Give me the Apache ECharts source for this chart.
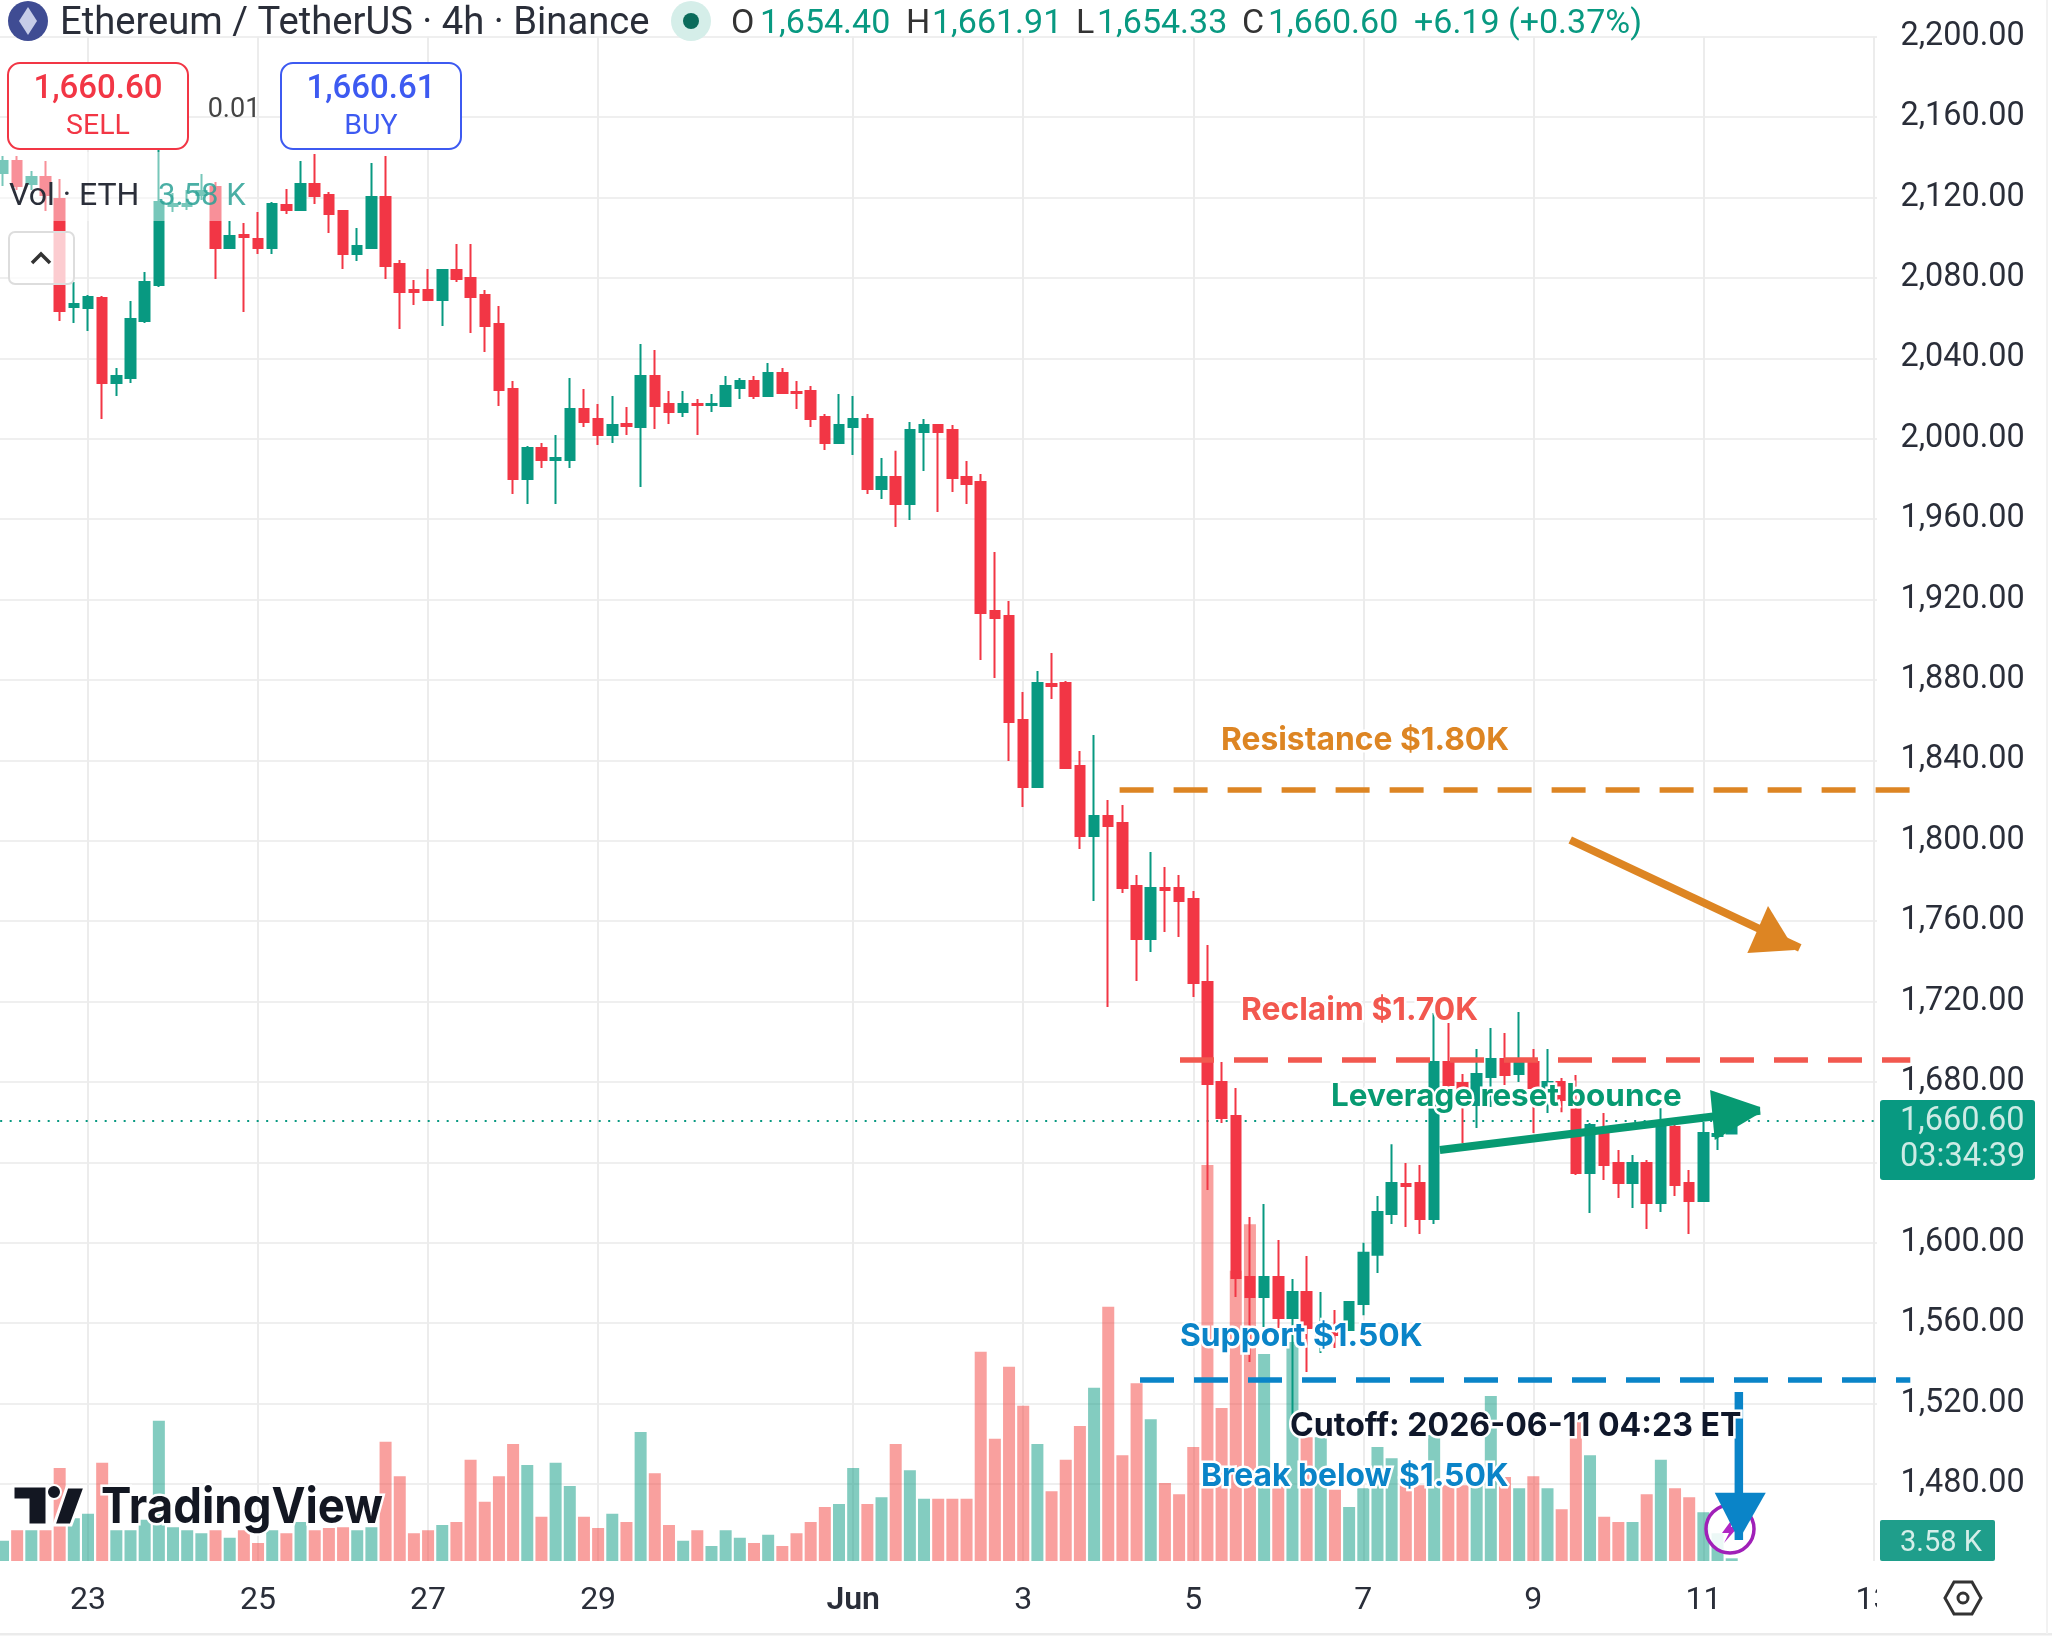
<!DOCTYPE html>
<html>
<head>
<meta charset="utf-8">
<title>ETH/USDT 4h</title>
<script src="https://cdn.jsdelivr.net/npm/echarts@6/dist/echarts.min.js"></script>
<style>html,body{margin:0;padding:0;background:#fff}#chart{width:2052px;height:1644px}</style>
</head>
<body>
<div id="chart"></div>
<script>
// 4h candles, oldest first
const opens = [2132.2,2138.2,2126.8,2130.2,2119.3,2065.6,2065.1,2070,2027.8,2030.2,2058.6,2076.5,2115.8,2115.8,2121.3,2125.3,2094.9,2101.4,2099.4,2094.9,2116.3,2113.8,2126.8,2121.3,2113.3,2091.9,2094.9,2120.3,2087,2074,2074,2069,2084,2080,2071.5,2057.1,2024.8,1980,1995.4,1989.4,1989.4,2014.8,2009.8,2001.9,2007.4,2005.9,2031.2,2017.3,2013.3,2017.3,2016.8,2016.3,2025.3,2028.8,2021.3,2032.7,2023.3,2023.8,2010.8,1997.9,2005.9,2009.8,1975,1981,1967.6,2003.4,2006.9,2004.4,1981,1978.5,1914.3,1911.8,1860.1,1826.8,1878,1878.5,1837.2,1802.4,1812.3,1808.9,1777.5,1751.1,1776.5,1776.5,1771,1729.8,1680,1663.1,1583,1573,1583,1562.6,1575.5,1552.6,1555.6,1556.6,1569.6,1594,1614.3,1629.3,1629.8,1611.8,1690,1679.5,1668.5,1682.5,1691.4,1684,1690,1677,1680,1666.5,1634.7,1656.1,1639.7,1629.8,1639.7,1619.8,1657.6,1629.8,1620.8,1653.1,1654.4];
const closes = [2138.2,2125.8,2130.2,2121.3,2063.6,2067.1,2070.5,2027.8,2031.2,2059.6,2078,2117.8,2116.8,2116.8,2123.3,2094.9,2100.9,2100.4,2094.9,2116.8,2113.8,2126.8,2120.8,2111.8,2091.9,2095.9,2120.3,2086,2073,2073,2069,2084,2079.5,2070.5,2056.1,2024.3,1980,1995.4,1989.4,1990.4,2014.8,2008.4,2001.9,2006.9,2006.4,2031.2,2016.3,2013.3,2017.3,2016.8,2017.3,2026.3,2028.8,2021.3,2032.7,2022.8,2022.8,2009.8,1997.9,2006.9,2009.8,1975,1981,1967.6,2004.4,2006.9,2003.4,1980.5,1977.5,1913.3,1910.8,1859.1,1826.8,1878.5,1877,1836.2,1802.4,1812.3,1807.4,1776.5,1751.1,1776.5,1775.5,1770,1729.3,1679,1662.1,1582.5,1573,1583,1562.6,1575.5,1557.6,1559.1,1554.1,1570.6,1595,1615.3,1629.8,1628.3,1611.8,1690,1678.5,1671,1684,1691.4,1683.5,1689.4,1677,1680,1671,1634.7,1658.6,1638.7,1629.8,1639.7,1619.8,1658.6,1628.8,1620.8,1654.6,1654.1,1660.6];
const lows = [2125.8,2123.8,2123.8,2113.3,2058.6,2057.6,2053.6,2009.8,2021.3,2027.8,2057.6,2075.5,2112.8,2113.8,2118.8,2079.5,2094.9,2063.1,2091.9,2091.9,2111.8,2113.3,2116.8,2102.4,2084.5,2088.4,2094.9,2079.5,2054.6,2066.6,2069,2056.1,2078,2052.6,2043.2,2016.3,1972.5,1967.6,1985.5,1967.6,1985.5,2005.9,1996.9,1997.9,2001.9,1976,2004.9,2007.4,2010.8,2001.9,2013.3,2016.3,2019.8,2019.8,2021.3,2022.8,2014.8,2005.9,1994.4,1997.9,1992,1972.5,1970,1956.1,1959.6,1984,1963.6,1973.5,1967.6,1889.9,1881,1839.7,1816.8,1826.8,1870.5,1836.2,1795.9,1770,1717.3,1774,1730.2,1744.7,1754.6,1752.1,1722.3,1626.3,1659.6,1573,1540.7,1558.1,1557.6,1514.3,1535.7,1545.2,1547.7,1556.6,1564,1585,1609.4,1607.9,1604.4,1609.4,1673.5,1649.6,1657.1,1667.6,1678.5,1680,1654.6,1664.6,1665,1633.7,1614.8,1631.2,1622.3,1617.3,1606.9,1615.3,1623.3,1604.4,1620.8,1646.2,1654.33];
const highs = [2140.7,2140.7,2133.2,2138.2,2129.2,2078,2071.5,2071,2035.2,2068.6,2083,2143.7,2122.3,2123.8,2131.7,2127.8,2108.4,2107.4,2112.8,2117.8,2124.3,2138.2,2141.7,2122.8,2113.3,2104.9,2137.2,2140.7,2089,2079,2084.5,2084,2096.9,2096.9,2074,2066.1,2028.8,1996.4,1997.9,2001.9,2030.2,2024.8,2017.3,2021.3,2015.8,2047.2,2044.2,2023.8,2023.8,2019.8,2022.3,2031.2,2030.2,2031.2,2037.7,2035.2,2028.8,2026.3,2012.3,2022.3,2021.3,2012.3,1990.4,1994,2008.4,2009.8,2006.9,2006.9,1989,1982.5,1943.7,1919.3,1874,1884.5,1893.4,1879.5,1844.7,1852.6,1820.3,1817.8,1783,1794.4,1787,1783,1775,1748.2,1690,1677,1612.8,1619.3,1601.4,1582,1593.4,1575.5,1566.6,1570.6,1600,1623.3,1649,1639.7,1638.7,1714.3,1709.4,1684,1696.4,1706.9,1704.4,1714.8,1696.4,1696.4,1682,1683.5,1659.6,1664.6,1646.2,1643.7,1641.2,1667,1658.6,1636.2,1660.1,1658.6,1661.91];

// Traded volume per candle, thousands of ETH
const volumes = [27,41,41,41,124,57,63,131,41,41,55,187,45,41,37,41,31,41,24,41,37,52,41,44,45,41,45,159,113,37,41,48,52,135,79,113,156,128,59,131,100,59,44,63,52,172,117,48,27,41,20,41,31,24,35,20,37,52,72,76,124,76,85,156,121,83,83,83,83,279,163,259,207,156,93,135,180,231,339,141,237,189,104,89,152,528,204,387,449,276,99,292,165,165,95,72,97,152,137,101,101,168,101,101,101,220,112,97,113,97,69,185,141,59,52,52,89,135,97,85,65,37,3.58];

// Day ticks along the time axis: label and candle slot
const dayTickLabels = ['23','25','27','29','Jun','3','5','7','9','11','13'];
const dayTickSlots = [6,18,30,42,60,72,84,96,108,120,132];
const slotCount = 133;

// Horizontal levels and drawn arrows, as [slot, price]
const resistanceLevel = [[78.8,1825.3],[134.6,1825.3]];
const reclaimLevel = [[83.06,1690.9],[134.6,1690.9]];
const supportLevel = [[80.24,1531.7],[134.6,1531.7]];
const lastPriceLine = [[-0.2,1660.6],[132.2,1660.6]];
const orangeShaft = [[110.6,1800.4],[126.8,1746.7]];
const orangeHead = [[124.56,1767.6],[123.1,1744.2],[126.46,1745.7]];
const greenShaft = [[101.4,1646.2],[124,1665.7]];
const greenHead = [[120.47,1676],[124,1667.6],[124,1664.6],[120.8,1651.1]];
const blueShaft = [[122.5,1525.8],[122.5,1452.2]];
const blueHead = [[120.8,1475.7],[124.4,1475.7],[122.5,1452.2]];

const UP = '#089981', DOWN = '#F23645';
const ORANGE = '#DD8523', RED_LINE = '#F2584F', BLUE = '#0A84C8', GREEN_NOTE = '#079A72', INK = '#131722';
const SANS = 'Roboto, sans-serif', BOLD = 'Inter, sans-serif';

const slotLabels = new Array(slotCount).fill('');
dayTickSlots.forEach((s, i) => { slotLabels[s] = dayTickLabels[i]; });
const candles = opens.map((o, i) => [o, closes[i], lows[i], highs[i]]);
const volumeBars = volumes.map((v, i) => ({
  value: v,
  itemStyle: { color: closes[i] >= opens[i] ? 'rgba(8,153,129,0.5)' : 'rgba(243,66,62,0.5)' }
}));

const dash = (data, color) => ({
  type: 'line', xAxisIndex: 2, yAxisIndex: 2, z: 20, data, symbol: 'none', silent: true,
  lineStyle: { color, width: 5.5, type: [34, 20] }, animation: false
});
const shaft = (data, color, width) => ({
  type: 'line', xAxisIndex: 2, yAxisIndex: 2, z: 21, data, symbol: 'none', silent: true,
  lineStyle: { color, width, cap: 'butt' }, animation: false
});
const head = (points, color) => ({
  type: 'custom', xAxisIndex: 2, yAxisIndex: 2, z: 22, data: points, silent: true, animation: false,
  renderItem(params, api) {
    if (params.dataIndex !== 0) return null;
    return { type: 'polygon', shape: { points: points.map(p => api.coord(p)) }, style: { fill: color } };
  }
});

const text = (str, x, y, size, fill, extra = {}) => ({
  type: 'text', x, y, z: extra.z || 40,
  scaleX: extra.scaleX || 1, originX: 0, silent: true,
  style: {
    text: str, fill,
    font: `${extra.weight || 400} ${size}px ${extra.family || SANS}`,
    align: extra.align || 'left', verticalAlign: 'middle',
    stroke: extra.halo ? '#fff' : null, lineWidth: extra.halo || 0, opacity: extra.opacity == null ? 1 : extra.opacity
  }
});
const rect = (x, y, width, height, style, z, r) => ({
  type: 'rect', silent: true, z, shape: { x, y, width, height, r: r || 0 }, style
});
const note = (str, x, y, fill, size = 31.8) => text(str, x, y, size, fill, { weight: 700, family: BOLD, halo: 5 });

const chrome = [
  // edges of the pane and the time-scale strip
  rect(1877, 0, 5, 1570, { fill: '#fff' }, 10),
  rect(1877, 1570, 175, 62, { fill: '#fff' }, 10),
  rect(0, 1633, 2052, 2.5, { fill: '#EBEBEB' }, 11),
  rect(2046, 0, 2, 1634, { fill: '#F2F2F2' }, 11),

  // symbol header
  { type: 'circle', z: 30, silent: true, shape: { cx: 28, cy: 21, r: 20 }, style: { fill: '#3F4C93' } },
  { type: 'polygon', z: 31, silent: true, shape: { points: [[28, 7], [37, 21], [28, 35], [19, 21]] }, style: { fill: '#C7CDE8' } },
  text('Ethereum / TetherUS · 4h · Binance', 60, 24, 38.2, '#2A2E39', { z: 32 }),
  { type: 'circle', z: 30, silent: true, shape: { cx: 691, cy: 21, r: 20 }, style: { fill: '#D5EEE9' } },
  { type: 'circle', z: 31, silent: true, shape: { cx: 691, cy: 21, r: 8 }, style: { fill: '#0B6B5B' } },
  text('O', 731, 24, 34, '#333'),
  text('1,654.40', 760, 24, 34, UP),
  text('H', 906, 24, 34, '#333'),
  text('1,661.91', 932, 24, 34, UP),
  text('L', 1076, 24, 34, '#333'),
  text('1,654.33', 1097, 24, 34, UP),
  text('C', 1242, 24, 34, '#333'),
  text('1,660.60', 1268, 24, 34, UP),
  text('+6.19 (+0.37%)', 1414, 24, 34, UP),

  // order buttons
  rect(8, 63, 180, 86, { fill: '#fff', stroke: DOWN, lineWidth: 2 }, 30, 12),
  text('1,660.60', 98, 90, 33, DOWN, { align: 'center', weight: 500, z: 32 }),
  text('SELL', 98, 127, 28.5, DOWN, { align: 'center', z: 32 }),
  text('0.01', 234, 110, 27, '#444', { align: 'center', z: 32 }),
  rect(281, 63, 180, 86, { fill: '#fff', stroke: '#3D5AF1', lineWidth: 2 }, 30, 12),
  text('1,660.61', 371, 90, 33, '#3D5AF1', { align: 'center', weight: 500, z: 32 }),
  text('BUY', 371, 127, 28.5, '#3D5AF1', { align: 'center', z: 32 }),

  // volume legend row fades whatever sits behind it
  rect(0, 152, 245, 69, { fill: 'rgba(255,255,255,0.45)' }, 15),
  text('Vol · ETH', 9, 197, 32, '#2A2E39', { z: 32 }),
  text('3.58 K', 158, 197, 31, '#2AA195', { z: 32, opacity: 0.85 }),
  rect(9, 232, 65, 52, { fill: 'rgba(255,255,255,0.75)', stroke: '#DDD', lineWidth: 2 }, 16, 6),
  { type: 'polyline', z: 32, silent: true, shape: { points: [[32, 263], [41, 254], [50, 263]] }, style: { fill: null, stroke: '#333', lineWidth: 3.5 } },

  // last price and volume tags on the scale
  rect(1880, 1100, 155, 80, { fill: UP }, 30, 3),
  text('1,660.60', 1900, 1122, 32.5, '#CDEBE5', { z: 32 }),
  text('03:34:39', 1900, 1158, 32.5, '#CDEBE5', { z: 32 }),
  rect(1880, 1520, 115, 41, { fill: '#1F9E8B' }, 30, 2),
  text('3.58 K', 1900, 1544, 29, '#D5EEE9', { z: 32 }),

  // settings glyph on the corner of the scales
  { type: 'polygon', z: 32, silent: true, shape: { points: [[1945, 1598], [1954, 1582], [1972, 1582], [1981, 1598], [1972, 1614], [1954, 1614]] }, style: { fill: null, stroke: '#333', lineWidth: 3 } },
  { type: 'circle', z: 32, silent: true, shape: { cx: 1963, cy: 1598, r: 5 }, style: { fill: null, stroke: '#333', lineWidth: 3 } },

  // event marker beneath the down arrow
  { type: 'circle', z: 18, silent: true, shape: { cx: 1730, cy: 1529, r: 24 }, style: { fill: 'rgba(255,255,255,0.85)', stroke: '#A020B8', lineWidth: 3.5 } },
  { type: 'polygon', z: 19, silent: true, shape: { points: [[1733, 1518], [1722, 1533], [1729, 1533], [1724, 1543], [1738, 1527], [1731, 1527]] }, style: { fill: '#B026C4' } },

  // wordmark in the lower-left corner
  { type: 'polygon', z: 33, silent: true, shape: { points: [[13, 1486], [47, 1486], [47, 1525], [28, 1525], [28, 1500], [13, 1500]] }, style: { fill: INK, stroke: '#fff', lineWidth: 3 } },
  { type: 'circle', z: 33, silent: true, shape: { cx: 54, cy: 1492, r: 7 }, style: { fill: INK, stroke: '#fff', lineWidth: 2 } },
  { type: 'polygon', z: 33, silent: true, shape: { points: [[67, 1487], [85, 1487], [71, 1525], [54, 1525]] }, style: { fill: INK, stroke: '#fff', lineWidth: 3 } },
  text('TradingView', 101, 1508, 49, INK, { weight: 700, family: BOLD, halo: 5, z: 33, scaleX: 0.93 }),

  // annotation labels
  note('Resistance $1.80K', 1221, 740, ORANGE),
  note('Reclaim $1.70K', 1241, 1010, RED_LINE),
  note('Leverage reset bounce', 1331, 1097, GREEN_NOTE, 31.4),
  note('Support $1.50K', 1180, 1336, BLUE),
  note('Cutoff: 2026-06-11 04:23 ET', 1290, 1426, '#0F172A', 32.1),
  note('Break below $1.50K', 1201, 1476, BLUE)
];

const chart = echarts.init(document.getElementById('chart'), null, { renderer: 'canvas' });
const paneLeft = -4.1, paneWidth = 1884.6;

chart.setOption({
  animation: false,
  backgroundColor: '#fff',
  textStyle: { fontFamily: SANS },
  grid: [
    // price pane runs from 2240 to 1440, both ends outside the visible span
    { left: paneLeft, width: paneWidth, top: -43.6, height: 1608, outerBoundsMode: 'none' },
    // volume pane sits on the bottom of the price pane
    { left: paneLeft, width: paneWidth, top: 1156, height: 405, outerBoundsMode: 'none' },
    // full-width pane for annotations, same price scale
    { left: 0, width: 2052, top: -43.6, height: 1608, outerBoundsMode: 'none' }
  ],
  xAxis: [
    {
      type: 'category', gridIndex: 0, data: slotLabels, boundaryGap: true,
      axisLine: { show: false }, axisTick: { show: false }, splitLine: { show: false },
      axisLabel: {
        interval: 0, hideOverlap: false, margin: 21, color: '#2A2E39', fontSize: 32, fontFamily: SANS,
        formatter: v => v === 'Jun' ? '{month|Jun}' : v,
        rich: { month: { fontSize: 32, fontWeight: 600, color: '#2A2E39', fontFamily: SANS } }
      }
    },
    { type: 'category', gridIndex: 1, data: slotLabels, show: false },
    { type: 'value', gridIndex: 2, min: -0.2117, max: 144.6, show: false, splitLine: { show: false } }
  ],
  yAxis: [
    {
      type: 'value', gridIndex: 0, position: 'right', min: 1440, max: 2240, interval: 40, scale: true,
      axisLine: { show: false }, axisTick: { show: false },
      splitLine: { showMinLine: false, showMaxLine: false, lineStyle: { color: '#EFEFEF', width: 2 } },
      axisLabel: {
        margin: 20, color: '#2A2E39', fontSize: 32.4, fontFamily: SANS, showMinLabel: false, showMaxLabel: false,
        verticalAlign: 'middle', padding: [0, 0, 8, 0],
        formatter: v => v.toLocaleString('en-US', { minimumFractionDigits: 2, maximumFractionDigits: 2 })
      }
    },
    { type: 'value', gridIndex: 1, min: 0, max: 540, show: false, splitLine: { show: false } },
    { type: 'value', gridIndex: 2, min: 1440, max: 2240, show: false, splitLine: { show: false } }
  ],
  series: [
    {
      type: 'bar', xAxisIndex: 1, yAxisIndex: 1, data: volumeBars, barWidth: 12, z: 1, silent: true
    },
    {
      type: 'candlestick', xAxisIndex: 0, yAxisIndex: 0, data: candles, barWidth: 10, z: 3, silent: true,
      itemStyle: { color: UP, color0: DOWN, borderColor: UP, borderColor0: DOWN, borderWidth: 2 },
      markLine: {
        silent: true, symbol: 'none', z: 0, animation: false, label: { show: false },
        lineStyle: { color: '#ECECEC', width: 2, type: 'solid' },
        data: dayTickSlots.map(s => [{ xAxis: s, yAxis: 2200 }, { xAxis: s, yAxis: 1441.7 }])
      }
    },
    Object.assign(shaft(lastPriceLine, UP, 2), { z: 2, lineStyle: { color: UP, width: 2, type: [2, 7.5], cap: 'butt' } }),
    dash(resistanceLevel, ORANGE),
    dash(reclaimLevel, RED_LINE),
    dash(supportLevel, BLUE),
    shaft(orangeShaft, ORANGE, 8),
    head(orangeHead, ORANGE),
    shaft(greenShaft, GREEN_NOTE, 8),
    head(greenHead, GREEN_NOTE),
    shaft(blueShaft, BLUE, 8.5),
    head(blueHead, BLUE)
  ],
  graphic: { elements: chrome }
});
</script>
</body>
</html>
